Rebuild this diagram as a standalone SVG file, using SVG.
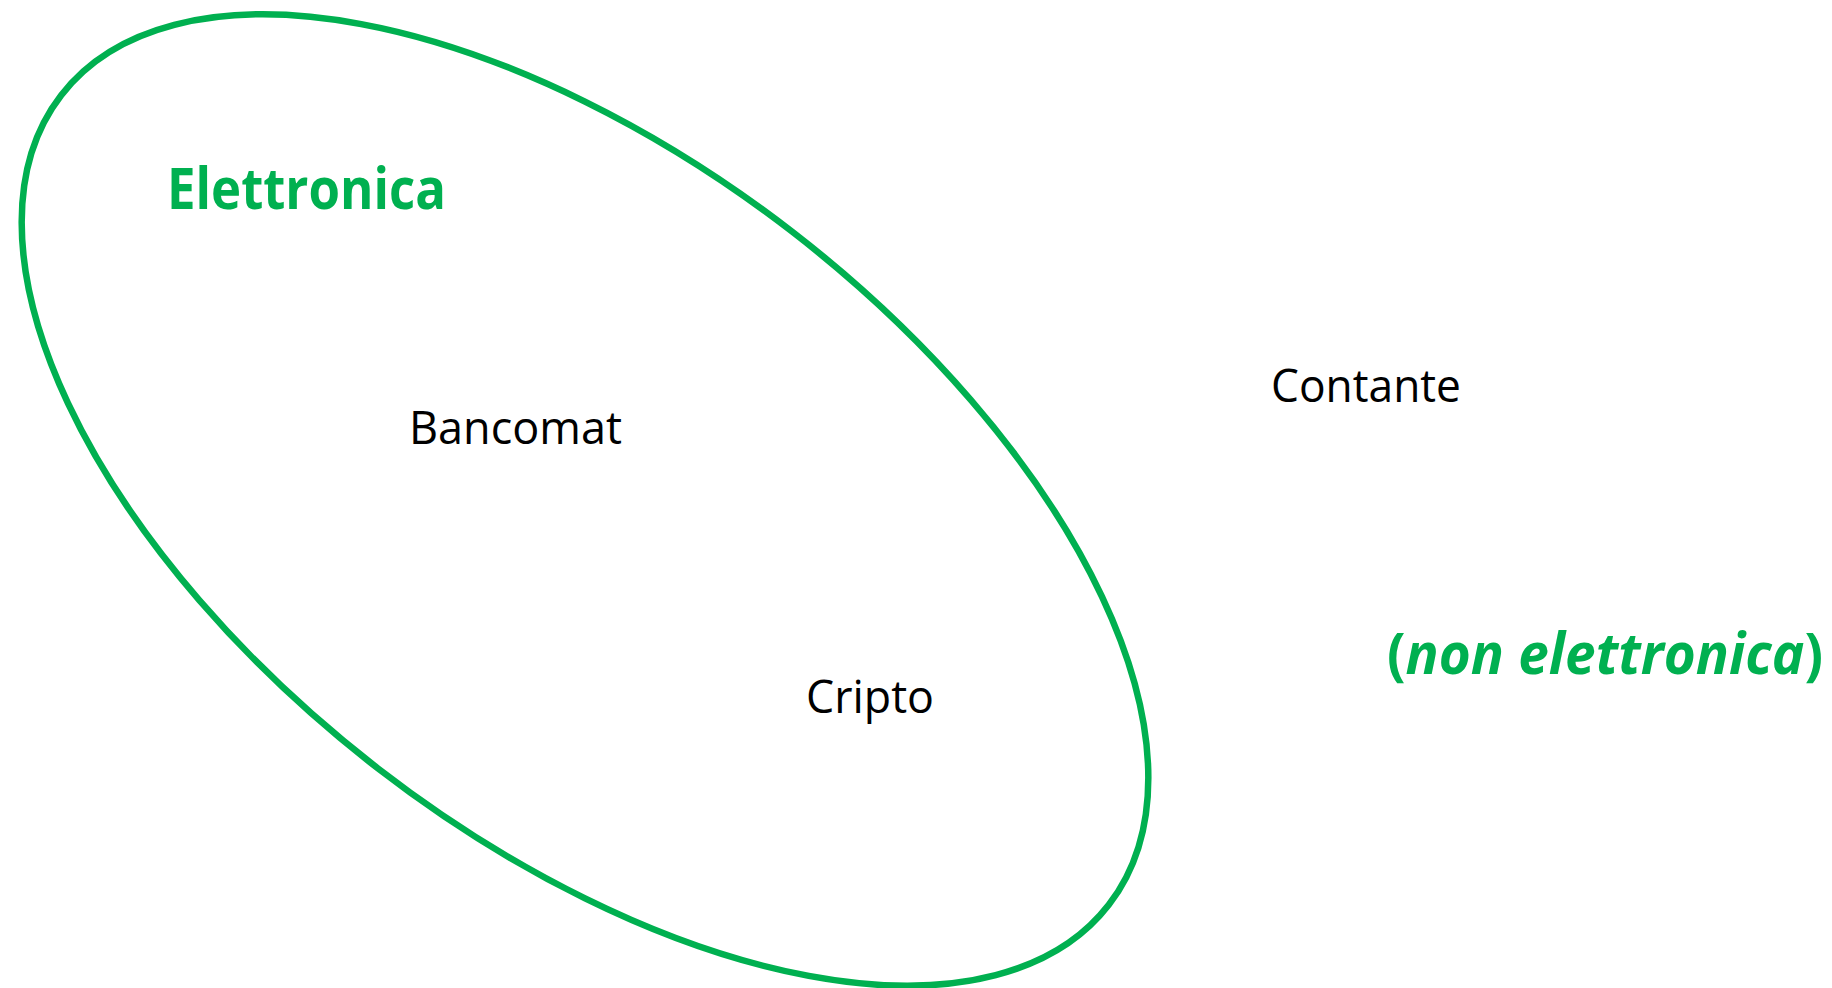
<svg xmlns="http://www.w3.org/2000/svg" width="1832" height="988" viewBox="0 0 1832 988">
<style>
.lbl{font-family:"Open Sans","Liberation Sans",sans-serif;font-size:45px;fill:#000}
.grn{font-family:"Open Sans","Liberation Sans",sans-serif;font-size:58px;font-weight:bold;fill:#00B050}
</style>
<rect width="1832" height="988" fill="#fff"/>
<g id="elettronica-set">
<ellipse cx="585" cy="500" rx="662" ry="339" transform="rotate(37.7 585 500)" fill="none" stroke="#00B050" stroke-width="6.5"/>
<text class="grn" x="167" y="209" textLength="279" lengthAdjust="spacingAndGlyphs">Elettronica</text>
</g>
<g id="bancomat"><text class="lbl" x="409" y="444" textLength="213" lengthAdjust="spacingAndGlyphs">Bancomat</text></g>
<g id="cripto"><text class="lbl" x="806" y="713" textLength="128" lengthAdjust="spacingAndGlyphs">Cripto</text></g>
<g id="contante"><text class="lbl" x="1271" y="402" textLength="190" lengthAdjust="spacingAndGlyphs">Contante</text></g>
<g id="non-elettronica"><text class="grn" x="1387" y="674" font-size="60" textLength="436" lengthAdjust="spacingAndGlyphs">(<tspan font-style="italic">non elettronica</tspan>)</text></g>
<g id="connectors"></g>
</svg>
